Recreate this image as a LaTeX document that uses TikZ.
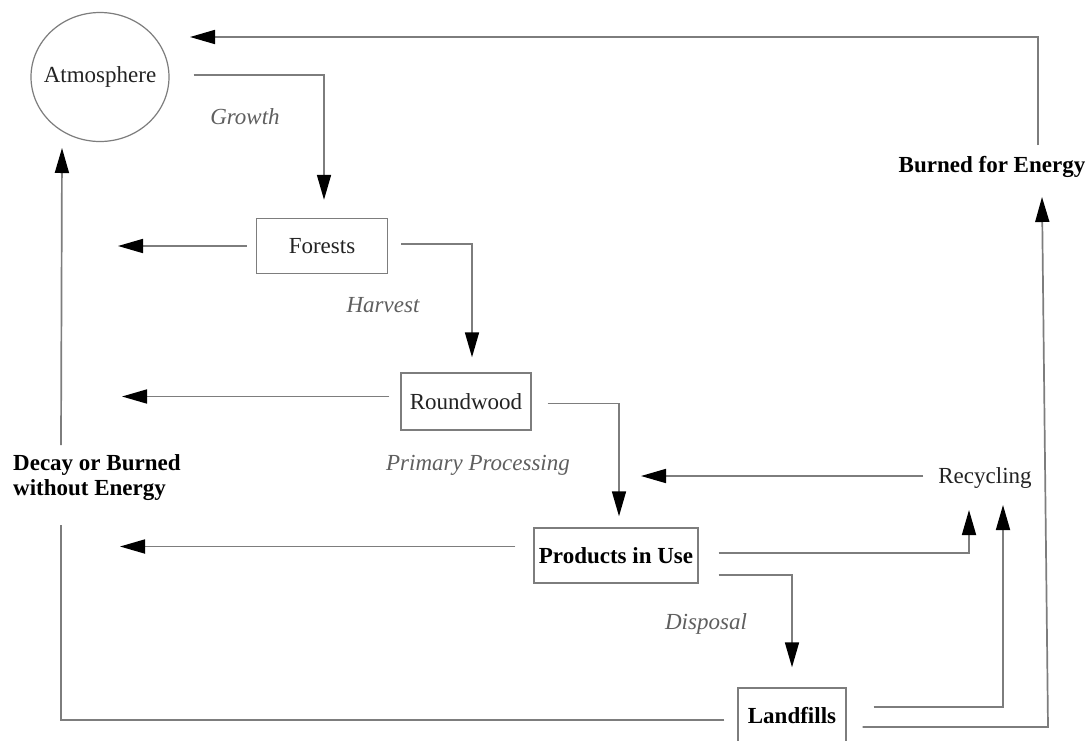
\documentclass[tikz,border=0pt]{standalone}
\usepackage{fontspec}
\setmainfont{Liberation Serif}
\usetikzlibrary{arrows.meta,shapes.geometric}
\definecolor{linec}{RGB}{125,125,125}
\definecolor{ital}{RGB}{95,95,95}
\definecolor{txt}{RGB}{35,35,35}
\begin{document}
\begin{tikzpicture}[x=1pt,y=-1pt,
  every node/.style={font=\fontsize{23}{25}\selectfont},
  ln/.style={draw=linec, line width=1.7pt},
  arr/.style={ln, -{Triangle[length=25pt,width=14pt,color=black]}},
  boxnode/.style={draw=linec, line width=1.4pt, rectangle, inner sep=0pt, text=txt},
  lbl/.style={font=\fontsize{23}{25}\selectfont\itshape, text=ital, inner sep=0pt},
  plain/.style={inner sep=0pt, text=txt},
  bold/.style={inner sep=0pt, text=black, font=\fontsize{23}{25}\selectfont\bfseries},
]
\useasboundingbox (0,0) rectangle (1090,740);
\fill[white] (0,0) rectangle (1090,740);

% nodes
\node[ellipse, draw=linec, line width=1.2pt, minimum width=138pt, minimum height=129pt, inner sep=0pt, text=txt] (atm) at (100,77) {\makebox[0pt]{\raisebox{4pt}{Atmosphere}}};
\node[boxnode, minimum width=131pt, minimum height=55pt] (forests) at (322,246) {Forests};
\node[boxnode, minimum width=130pt, minimum height=57pt] (round) at (466,401.5) {Roundwood};
\node[boxnode, minimum width=164pt, minimum height=55pt, font=\fontsize{23}{25}\selectfont\bfseries, text=black] (prod) at (616,555.5) {Products in Use};
\node[boxnode, minimum width=108pt, minimum height=56pt, font=\fontsize{23}{25}\selectfont\bfseries, text=black] (land) at (792,716) {Landfills};
\node[plain] (recyc) at (985,478) {Recycling};
\node[bold] (burned) at (992,167) {Burned for Energy};
\node[bold, align=left, anchor=west] (decay) at (13,477.5) {Decay or Burned\\without Energy};

\node[lbl] (growth) at (245,117) {Growth};
\node[lbl] (harvest) at (383,305) {Harvest};
\node[lbl] (primary) at (478,465) {Primary Processing};
\node[lbl] (disposal) at (706,624) {Disposal};

% free ends / bends
\coordinate (atmIn) at (190,37);
\coordinate (fL) at (118,246);
\coordinate (rL) at (122,396.5);
\coordinate (pL) at (120,546.5);
\coordinate (rcL) at (641,476);
\coordinate (rcA) at (969,510);
\coordinate (rcB) at (1003,505);
\coordinate (dB) at (61,525);
\coordinate (dT) at (61,445);
\coordinate (atmUp) at (62,148);
\coordinate (bC) at (1048,727);
\coordinate (bE) at (1042,197);

% connectors
\draw[arr] ([xshift=46pt,yshift=11pt]burned.north) |- (atmIn);
\draw[arr] ([xshift=24pt,yshift=2pt]atm.east) -| ([xshift=2pt,yshift=18pt]forests.north);
\draw[arr] ([xshift=-9pt]forests.west) -- (fL);
\draw[arr] ([xshift=13pt,yshift=2pt]forests.east) -| ([xshift=6pt,yshift=15pt]round.north);
\draw[arr] ([xshift=-11pt,yshift=5pt]round.west) -- (rL);
\draw[arr] ([xshift=16pt,yshift=-2pt]round.east) -| ([xshift=3pt,yshift=11pt]prod.north);
\draw[arr] ([xshift=-18pt,yshift=9pt]prod.west) -- (pL);
\draw[arr] ([xshift=-15pt,yshift=2pt]recyc.west) -- (rcL);
\draw[arr] ([xshift=20pt,yshift=2.5pt]prod.east) -| (rcA);
\draw[arr] ([xshift=20pt,yshift=-19.5pt]prod.east) -| ([yshift=20pt]land.north);
\draw[ln] ([xshift=-13pt,yshift=-4pt]land.west) -| (dB);
\draw[arr] (dT) -- (atmUp);
\draw[arr] ([xshift=27pt,yshift=9pt]land.east) -| (rcB);
\draw[arr] ([xshift=16pt,yshift=-11pt]land.east) -- (bC) -- (bE);
\end{tikzpicture}
\end{document}
